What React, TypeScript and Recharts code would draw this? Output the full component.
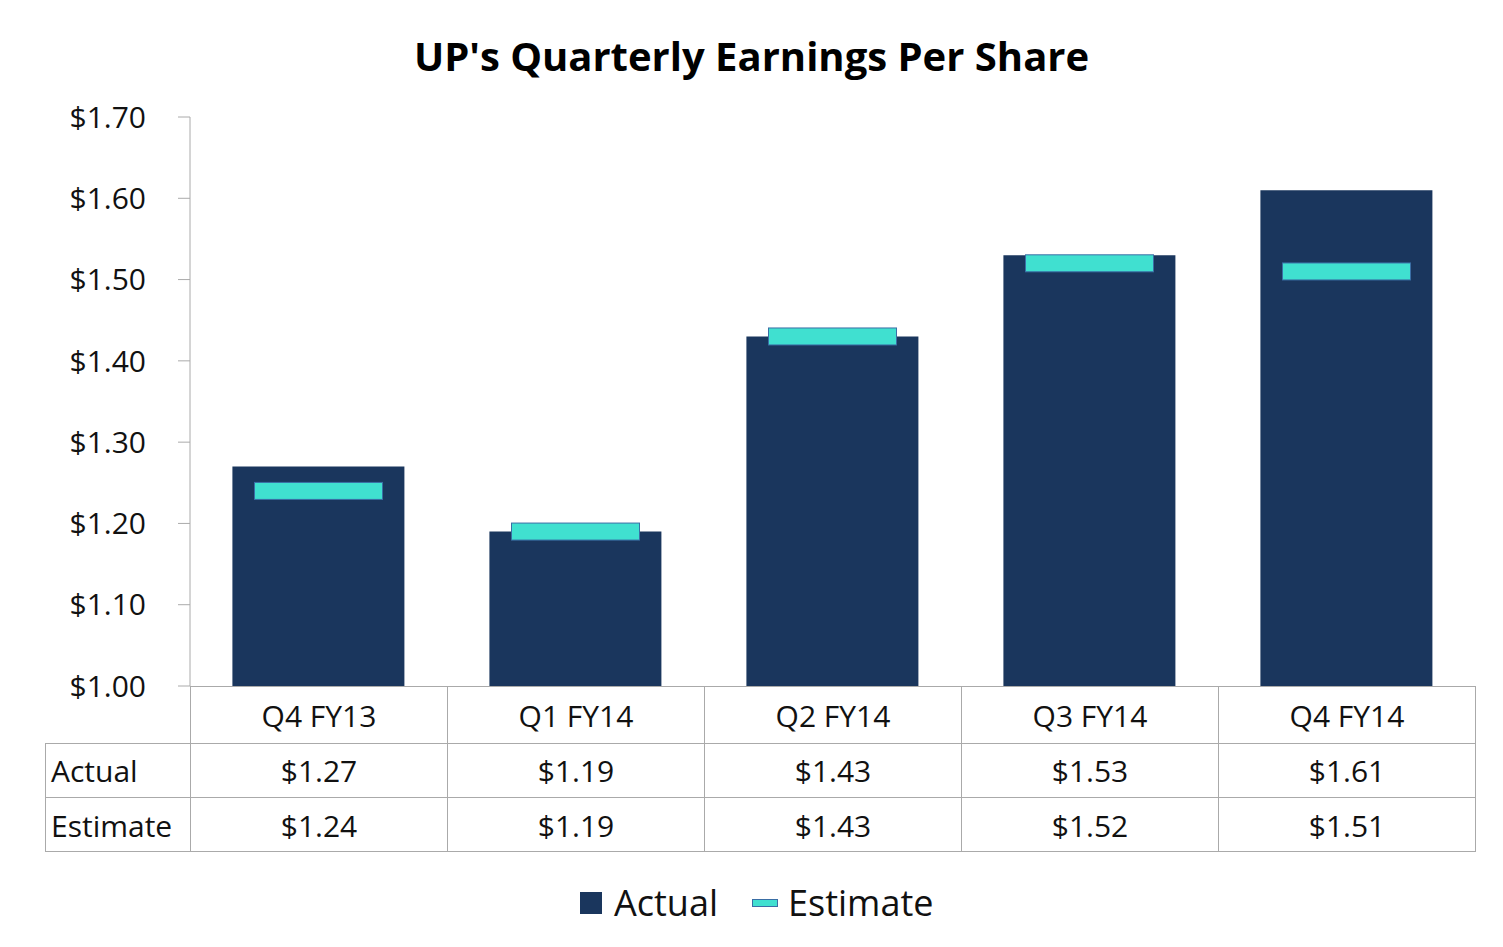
import { Bar, ComposedChart, Scatter, XAxis, YAxis } from "recharts";

const QUARTERS = ["Q4 FY13", "Q1 FY14", "Q2 FY14", "Q3 FY14", "Q4 FY14"];
const ACTUAL = [1.27, 1.19, 1.43, 1.53, 1.61];
const ESTIMATE = [1.24, 1.19, 1.43, 1.52, 1.51];
const Y_TICKS = [1.0, 1.1, 1.2, 1.3, 1.4, 1.5, 1.6, 1.7];

const NAVY = "#1a365d";
const TEAL = "#40e0d0";
const FONT = "'Open Sans', sans-serif";
const LINE = "#aaaaaa";

const data = QUARTERS.map((q, i) => ({ q, actual: ACTUAL[i], estimate: ESTIMATE[i] }));

const EstimateMark = (props: any) => (
  <rect x={props.cx - 64} y={props.cy - 8.5} width={128} height={17} fill={TEAL} stroke="#3a6ea5" strokeWidth={1} />
);

const fmt = (v: number) => `$${v.toFixed(2)}`;

const PLOT_L = 190;
const PLOT_R = 1475;
const COL = (PLOT_R - PLOT_L) / QUARTERS.length;

function Cell({ x, y, w, h, text, align = "center" }: any) {
  return (
    <div
      style={{
        position: "absolute", left: x, top: y, width: w, height: h, boxSizing: "border-box",
        borderLeft: `1px solid ${LINE}`, borderTop: `1px solid ${LINE}`,
        display: "flex", alignItems: "center", justifyContent: align === "left" ? "flex-start" : "center",
        paddingLeft: align === "left" ? 5 : 0, fontSize: 30, fontFamily: FONT, color: "#111",
      }}
    >
      {text}
    </div>
  );
}

export default function App() {
  const rows = [
    { label: "Actual", vals: ACTUAL, top: 743, h: 54 },
    { label: "Estimate", vals: ESTIMATE, top: 797, h: 55 },
  ];
  return (
    <div style={{ position: "relative", width: 1503, height: 947, margin: -8, background: "#fff" }}>
      <div style={{ position: "absolute", top: 28, width: 1503, textAlign: "center", fontFamily: FONT, fontWeight: 700, fontSize: 40, color: "#000" }}>
        UP's Quarterly Earnings Per Share
      </div>
      <ComposedChart width={1503} height={947} data={data} margin={{ top: 117, right: 28, left: 0, bottom: 261 }} barCategoryGap="16.5%">
        <XAxis dataKey="q" hide />
        <YAxis
          width={190}
          domain={[1, 1.7]}
          ticks={Y_TICKS}
          allowDataOverflow
          tickFormatter={fmt}
          tickSize={12}
          tickMargin={32}
          stroke={LINE}
          tick={{ fill: "#111", fontSize: 30, fontFamily: FONT }}
        />
        <Bar dataKey="actual" fill={NAVY} isAnimationActive={false} />
        <Scatter dataKey="estimate" shape={EstimateMark} isAnimationActive={false} />
      </ComposedChart>
      {QUARTERS.map((q, i) => (
        <Cell key={q} x={PLOT_L + i * COL} y={686} w={COL} h={57} text={q} />
      ))}
      {rows.map((r) => (
        <div key={r.label}>
          <Cell x={45} y={r.top} w={PLOT_L - 45} h={r.h} text={r.label} align="left" />
          {r.vals.map((v, i) => (
            <Cell key={i} x={PLOT_L + i * COL} y={r.top} w={COL} h={r.h} text={fmt(v)} />
          ))}
        </div>
      ))}
      <div style={{ position: "absolute", left: 45, top: 686, width: PLOT_R - 45 + 1, height: 166, boxSizing: "border-box", borderRight: `1px solid ${LINE}`, borderBottom: `1px solid ${LINE}`, pointerEvents: "none" }} />
      <div style={{ position: "absolute", left: 45, top: 686, width: 1, height: 57, background: "#fff" }} />
      <div style={{ position: "absolute", top: 878, left: 580, display: "flex", alignItems: "center", fontFamily: FONT, fontSize: 36, color: "#111" }}>
        <span style={{ width: 22, height: 22, background: NAVY, display: "inline-block", marginRight: 12 }} />
        <span style={{ marginRight: 34 }}>Actual</span>
        <span style={{ width: 24, height: 6, background: TEAL, border: "1px solid #3a6ea5", display: "inline-block", marginRight: 10 }} />
        <span>Estimate</span>
      </div>
    </div>
  );
}
